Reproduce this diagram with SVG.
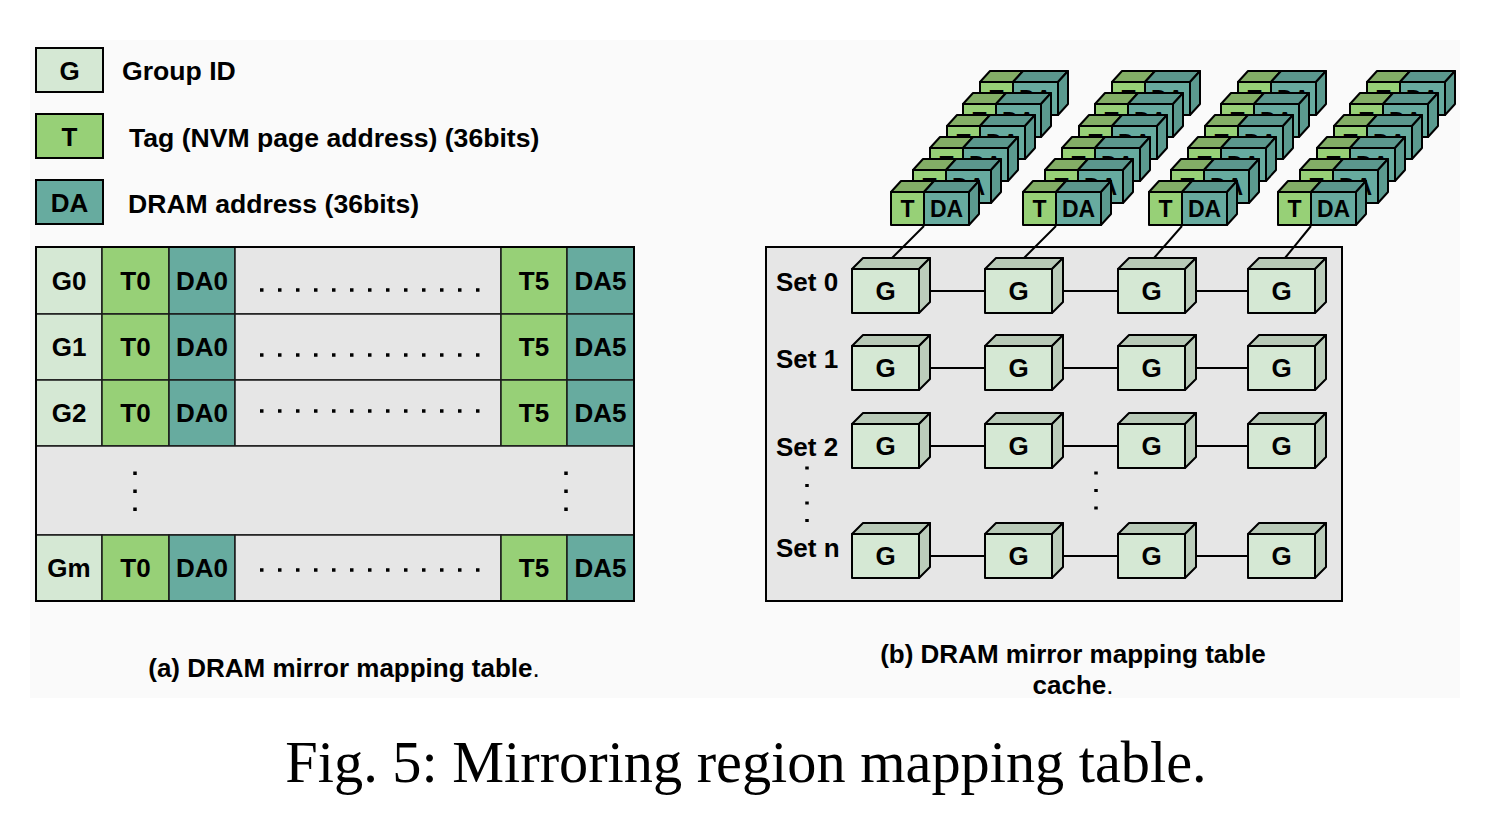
<svg xmlns="http://www.w3.org/2000/svg" xmlns:xlink="http://www.w3.org/1999/xlink" width="1508" height="818" viewBox="0 0 1508 818">
<style>
.b{font-family:"Liberation Sans",Arial,sans-serif;font-weight:bold;fill:#000}
.c{text-anchor:middle}
.f26{font-size:26px}
.f265{font-size:26.6px}
.f23{font-size:23px}
.ln{stroke:#000;stroke-width:2;fill:none}
.dot{stroke:#000;stroke-width:3.5;fill:none}
.gF{fill:#d5e8d4}.tF{fill:#97d077}.dF{fill:#67ab9f}.gray{fill:#e6e6e6}
.bx{stroke:#000;stroke-width:2}
.cell{stroke:#1a1a1a;stroke-width:1.5}
</style>
<defs>
<g id="tda" stroke="#000" stroke-width="2" stroke-linejoin="round">
<polygon points="0,0 10,-11 43,-11 33,0" fill="#83ae66"/>
<polygon points="33,0 43,-11 88,-11 78,0" fill="#5b978d"/>
<polygon points="78,0 88,-11 88,22 78,33" fill="#5b9a8f"/>
<rect x="0" y="0" width="33" height="33" fill="#97d077"/>
<rect x="33" y="0" width="45" height="33" fill="#67ab9f"/>
<text x="16.5" y="25" class="b c f23" stroke="none">T</text>
<text x="55.5" y="25" class="b c f23" stroke="none">DA</text>
</g>
<g id="gcube" stroke="#000" stroke-width="2" stroke-linejoin="round">
<polygon points="0,0 11,-11 78,-11 67,0" fill="#b8c9b7"/>
<polygon points="67,0 78,-11 78,33 67,44" fill="#bccdbb"/>
<rect x="0" y="0" width="67" height="44" fill="#d5e8d4"/>
<text x="33.5" y="31" class="b c f26" stroke="none">G</text>
</g>
</defs>
<rect x="0" y="0" width="1508" height="818" fill="#fff"/>
<rect x="30" y="40" width="1430" height="658" fill="#fafafa"/>

<!-- Legend -->
<g id="legend-g">
<rect x="36" y="48" width="67" height="44" class="gF bx"/>
<text x="69.5" y="80" class="b c f26">G</text>
<text x="122" y="80" class="b f265">Group ID</text>
</g>
<g id="legend-t">
<rect x="36" y="114" width="67" height="44" class="tF bx"/>
<text x="69.5" y="146" class="b c f26">T</text>
<text x="129" y="147" class="b f265">Tag (NVM page address) (36bits)</text>
</g>
<g id="legend-da">
<rect x="36" y="180" width="67" height="44" class="dF bx"/>
<text x="69.5" y="212" class="b c f26">DA</text>
<text x="128" y="213" class="b f265">DRAM address (36bits)</text>
</g>

<!-- Table (a) -->
<g id="table-a">
<rect x="36" y="247" width="598" height="354" class="gray"/>
<g class="cell">
<rect x="36" y="247" width="66" height="67" class="gF"/><rect x="102" y="247" width="67" height="67" class="tF"/><rect x="169" y="247" width="66" height="67" class="dF"/><rect x="235" y="247" width="266" height="67" class="gray"/><rect x="501" y="247" width="66" height="67" class="tF"/><rect x="567" y="247" width="67" height="67" class="dF"/>
<rect x="36" y="314" width="66" height="66" class="gF"/><rect x="102" y="314" width="67" height="66" class="tF"/><rect x="169" y="314" width="66" height="66" class="dF"/><rect x="235" y="314" width="266" height="66" class="gray"/><rect x="501" y="314" width="66" height="66" class="tF"/><rect x="567" y="314" width="67" height="66" class="dF"/>
<rect x="36" y="380" width="66" height="66" class="gF"/><rect x="102" y="380" width="67" height="66" class="tF"/><rect x="169" y="380" width="66" height="66" class="dF"/><rect x="235" y="380" width="266" height="66" class="gray"/><rect x="501" y="380" width="66" height="66" class="tF"/><rect x="567" y="380" width="67" height="66" class="dF"/>
<rect x="36" y="446" width="598" height="89" class="gray"/>
<rect x="36" y="535" width="66" height="66" class="gF"/><rect x="102" y="535" width="67" height="66" class="tF"/><rect x="169" y="535" width="66" height="66" class="dF"/><rect x="235" y="535" width="266" height="66" class="gray"/><rect x="501" y="535" width="66" height="66" class="tF"/><rect x="567" y="535" width="67" height="66" class="dF"/>
</g>
<rect x="36" y="247" width="598" height="354" fill="none" stroke="#000" stroke-width="2"/>
<g class="b c f26">
<text x="69" y="290">G0</text><text x="135.5" y="290">T0</text><text x="202" y="290">DA0</text><text x="534" y="290">T5</text><text x="600.5" y="290">DA5</text>
<text x="69" y="356">G1</text><text x="135.5" y="356">T0</text><text x="202" y="356">DA0</text><text x="534" y="356">T5</text><text x="600.5" y="356">DA5</text>
<text x="69" y="422">G2</text><text x="135.5" y="422">T0</text><text x="202" y="422">DA0</text><text x="534" y="422">T5</text><text x="600.5" y="422">DA5</text>
<text x="69" y="577">Gm</text><text x="135.5" y="577">T0</text><text x="202" y="577">DA0</text><text x="534" y="577">T5</text><text x="600.5" y="577">DA5</text>
</g>
<g class="dot" stroke-dasharray="3.5 14.5">
<line x1="260" y1="290" x2="480" y2="290"/>
<line x1="260" y1="355" x2="480" y2="355"/>
<line x1="260" y1="411" x2="480" y2="411"/>
<line x1="260" y1="570" x2="480" y2="570"/>
<line x1="135" y1="471.5" x2="135" y2="512"/>
<line x1="566" y1="471.5" x2="566" y2="512"/>
</g>
</g>

<!-- Panel (b) box -->
<g id="cache-box">
<rect x="766" y="247" width="576" height="354" class="gray bx"/>
<text x="776" y="291" class="b f26">Set 0</text>
<text x="776" y="368" class="b f26">Set 1</text>
<text x="776" y="456" class="b f26">Set 2</text>
<text x="776" y="557" class="b f26">Set n</text>
<g class="dot" stroke-width="3.5" stroke-dasharray="3 14.5">
<line x1="807" y1="466.5" x2="807" y2="525"/>
<line x1="1096" y1="471.5" x2="1096" y2="512"/>
</g>
</g>

<!-- Connectors -->
<g id="connectors" class="ln">
<line x1="924" y1="226" x2="892" y2="258"/>
<line x1="1056" y1="226" x2="1024" y2="258"/>
<line x1="1182" y1="226" x2="1154" y2="258"/>
<line x1="1311" y1="226" x2="1285" y2="258"/>
<line x1="930" y1="291" x2="985" y2="291"/><line x1="1063" y1="291" x2="1118" y2="291"/><line x1="1196" y1="291" x2="1248" y2="291"/>
<line x1="930" y1="368" x2="985" y2="368"/><line x1="1063" y1="368" x2="1118" y2="368"/><line x1="1196" y1="368" x2="1248" y2="368"/>
<line x1="930" y1="446" x2="985" y2="446"/><line x1="1063" y1="446" x2="1118" y2="446"/><line x1="1196" y1="446" x2="1248" y2="446"/>
<line x1="930" y1="556" x2="985" y2="556"/><line x1="1063" y1="556" x2="1118" y2="556"/><line x1="1196" y1="556" x2="1248" y2="556"/>
</g>

<!-- G cubes -->
<g id="set0">
<g id="s0g0"><use xlink:href="#gcube" x="852" y="269"/></g>
<g id="s0g1"><use xlink:href="#gcube" x="985" y="269"/></g>
<g id="s0g2"><use xlink:href="#gcube" x="1118" y="269"/></g>
<g id="s0g3"><use xlink:href="#gcube" x="1248" y="269"/></g>
</g>
<g id="set1">
<g id="s1g0"><use xlink:href="#gcube" x="852" y="346"/></g>
<g id="s1g1"><use xlink:href="#gcube" x="985" y="346"/></g>
<g id="s1g2"><use xlink:href="#gcube" x="1118" y="346"/></g>
<g id="s1g3"><use xlink:href="#gcube" x="1248" y="346"/></g>
</g>
<g id="set2">
<g id="s2g0"><use xlink:href="#gcube" x="852" y="424"/></g>
<g id="s2g1"><use xlink:href="#gcube" x="985" y="424"/></g>
<g id="s2g2"><use xlink:href="#gcube" x="1118" y="424"/></g>
<g id="s2g3"><use xlink:href="#gcube" x="1248" y="424"/></g>
</g>
<g id="setn">
<g id="sng0"><use xlink:href="#gcube" x="852" y="534"/></g>
<g id="sng1"><use xlink:href="#gcube" x="985" y="534"/></g>
<g id="sng2"><use xlink:href="#gcube" x="1118" y="534"/></g>
<g id="sng3"><use xlink:href="#gcube" x="1248" y="534"/></g>
</g>

<!-- TDA stacks -->
<g id="stack1">
<use xlink:href="#tda" x="980" y="82"/><use xlink:href="#tda" x="963" y="104"/><use xlink:href="#tda" x="947" y="126"/><use xlink:href="#tda" x="930" y="148"/><use xlink:href="#tda" x="913" y="170"/><use xlink:href="#tda" x="891" y="192"/>
</g>
<g id="stack2">
<use xlink:href="#tda" x="1112" y="82"/><use xlink:href="#tda" x="1095" y="104"/><use xlink:href="#tda" x="1079" y="126"/><use xlink:href="#tda" x="1062" y="148"/><use xlink:href="#tda" x="1045" y="170"/><use xlink:href="#tda" x="1023" y="192"/>
</g>
<g id="stack3">
<use xlink:href="#tda" x="1238" y="82"/><use xlink:href="#tda" x="1221" y="104"/><use xlink:href="#tda" x="1205" y="126"/><use xlink:href="#tda" x="1188" y="148"/><use xlink:href="#tda" x="1171" y="170"/><use xlink:href="#tda" x="1149" y="192"/>
</g>
<g id="stack4">
<use xlink:href="#tda" x="1367" y="82"/><use xlink:href="#tda" x="1350" y="104"/><use xlink:href="#tda" x="1334" y="126"/><use xlink:href="#tda" x="1317" y="148"/><use xlink:href="#tda" x="1300" y="170"/><use xlink:href="#tda" x="1278" y="192"/>
</g>

<!-- Captions -->
<text x="344" y="677" class="b c" font-size="26">(a) DRAM mirror mapping table<tspan font-weight="normal">.</tspan></text>
<text x="1073" y="663" class="b c" font-size="26">(b) DRAM mirror mapping table</text>
<text x="1073" y="694" class="b c" font-size="26">cache<tspan font-weight="normal">.</tspan></text>
<text x="746" y="782" text-anchor="middle" font-family="'Liberation Serif','Times New Roman',serif" font-size="58.3">Fig. 5: Mirroring region mapping table.</text>
</svg>
